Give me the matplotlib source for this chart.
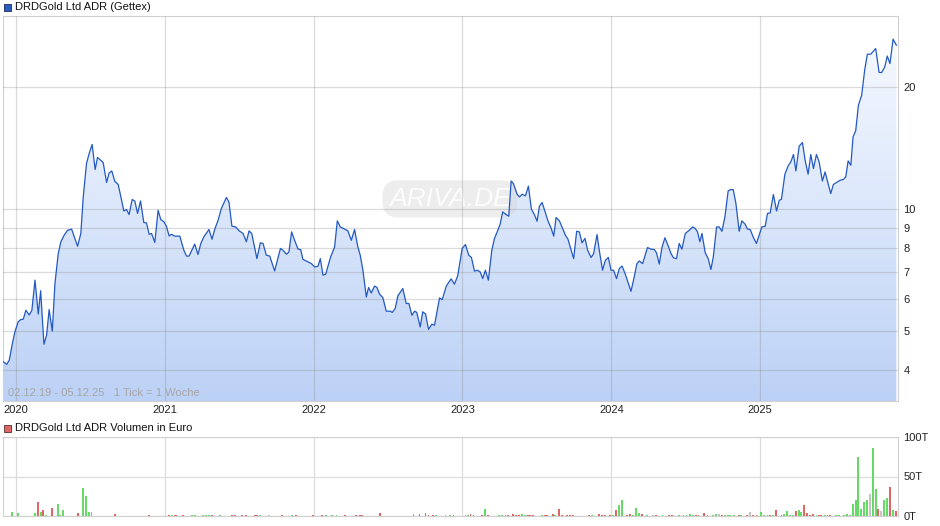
import numpy as np
import matplotlib
matplotlib.use('Agg')
import matplotlib.pyplot as plt
from matplotlib.colors import LinearSegmentedColormap
from matplotlib.patches import Polygon, Rectangle
from matplotlib.ticker import NullLocator

plt.rcParams['font.family'] = ['Liberation Sans', 'DejaVu Sans']

# Kursverlauf (Jahr als Dezimalzahl, Kurs in USD)
price_t = [2019.915, 2019.938, 2019.955, 2019.978, 2019.993, 2020.015, 2020.032, 2020.049, 2020.067, 2020.089,
           2020.107, 2020.128, 2020.150, 2020.166, 2020.188, 2020.206, 2020.223, 2020.244, 2020.262, 2020.284,
           2020.302, 2020.324, 2020.347, 2020.374, 2020.414, 2020.436, 2020.452, 2020.474, 2020.492, 2020.512,
           2020.532, 2020.548, 2020.586, 2020.609, 2020.626, 2020.644, 2020.664, 2020.687, 2020.725, 2020.743,
           2020.760, 2020.781, 2020.799, 2020.817, 2020.837, 2020.859, 2020.877, 2020.895, 2020.911, 2020.933,
           2020.955, 2020.973, 2020.995, 2021.011, 2021.029, 2021.045, 2021.067, 2021.101, 2021.128, 2021.146,
           2021.163, 2021.201, 2021.223, 2021.242, 2021.262, 2021.297, 2021.317, 2021.336, 2021.358, 2021.380,
           2021.414, 2021.431, 2021.451, 2021.476, 2021.500, 2021.526, 2021.548, 2021.566, 2021.584, 2021.619,
           2021.642, 2021.660, 2021.682, 2021.705, 2021.738, 2021.777, 2021.794, 2021.817, 2021.834, 2021.852,
           2021.872, 2021.895, 2021.913, 2021.928, 2021.962, 2021.985, 2022.007, 2022.029, 2022.045, 2022.063,
           2022.081, 2022.114, 2022.141, 2022.159, 2022.179, 2022.201, 2022.230, 2022.253, 2022.275, 2022.297,
           2022.313, 2022.331, 2022.354, 2022.369, 2022.387, 2022.409, 2022.425, 2022.443, 2022.465, 2022.488,
           2022.515, 2022.528, 2022.548, 2022.566, 2022.599, 2022.622, 2022.640, 2022.660, 2022.678, 2022.693,
           2022.716, 2022.733, 2022.752, 2022.772, 2022.794, 2022.812, 2022.846, 2022.864, 2022.891, 2022.924,
           2022.946, 2022.968, 2022.998, 2023.020, 2023.042, 2023.060, 2023.081, 2023.099, 2023.119, 2023.136,
           2023.154, 2023.174, 2023.197, 2023.215, 2023.233, 2023.253, 2023.270, 2023.293, 2023.311, 2023.327,
           2023.342, 2023.367, 2023.383, 2023.401, 2023.423, 2023.443, 2023.463, 2023.483, 2023.501, 2023.517,
           2023.535, 2023.557, 2023.575, 2023.595, 2023.613, 2023.629, 2023.651, 2023.673, 2023.691, 2023.709,
           2023.730, 2023.747, 2023.767, 2023.785, 2023.803, 2023.823, 2023.841, 2023.864, 2023.881, 2023.904,
           2023.919, 2023.941, 2023.960, 2023.980, 2023.998, 2024.015, 2024.035, 2024.054, 2024.072, 2024.094,
           2024.132, 2024.154, 2024.172, 2024.188, 2024.210, 2024.243, 2024.266, 2024.289, 2024.304, 2024.322,
           2024.340, 2024.360, 2024.383, 2024.401, 2024.418, 2024.438, 2024.456, 2024.474, 2024.497, 2024.523,
           2024.546, 2024.564, 2024.579, 2024.595, 2024.609, 2024.631, 2024.651, 2024.669, 2024.685, 2024.707,
           2024.725, 2024.743, 2024.763, 2024.785, 2024.803, 2024.819, 2024.837, 2024.859, 2024.877, 2024.899,
           2024.915, 2024.933, 2024.953, 2024.975, 2024.993, 2025.011, 2025.034, 2025.049, 2025.067, 2025.089,
           2025.110, 2025.128, 2025.143, 2025.166, 2025.188, 2025.206, 2025.224, 2025.240, 2025.262, 2025.284,
           2025.302, 2025.322, 2025.340, 2025.358, 2025.378, 2025.396, 2025.418, 2025.436, 2025.456, 2025.474,
           2025.492, 2025.519, 2025.537, 2025.559, 2025.575, 2025.591, 2025.609, 2025.624, 2025.642, 2025.660,
           2025.682, 2025.702, 2025.720, 2025.743, 2025.776, 2025.799, 2025.817, 2025.837, 2025.854, 2025.872,
           2025.893, 2025.915]
price_v = [4.20, 4.14, 4.24, 4.70, 4.98, 5.27, 5.34, 5.35, 5.63, 5.48,
           5.63, 6.68, 5.51, 6.29, 4.64, 4.89, 5.65, 5.00, 6.55, 7.77,
           8.31, 8.63, 8.87, 8.93, 8.10, 8.71, 10.72, 12.97, 13.73, 14.45,
           12.53, 13.42, 13.04, 11.64, 12.29, 12.43, 11.72, 11.51, 9.90, 9.98,
           9.70, 10.57, 10.47, 9.76, 10.48, 9.27, 9.25, 8.67, 8.71, 8.28,
           9.94, 9.43, 9.30, 9.08, 8.59, 8.67, 8.58, 8.58, 7.92, 7.66,
           7.66, 8.20, 7.73, 8.23, 8.54, 8.91, 8.43, 8.93, 9.39, 10.04,
           10.69, 10.42, 9.08, 9.04, 8.84, 8.71, 8.31, 8.84, 8.71, 7.55,
           8.26, 8.23, 7.70, 7.66, 7.04, 8.00, 7.92, 7.74, 7.84, 8.79,
           8.38, 7.97, 7.95, 7.52, 7.41, 7.34, 7.20, 7.23, 7.55, 6.87,
           6.91, 7.62, 8.07, 9.36, 9.04, 8.96, 8.84, 8.38, 8.91, 8.07,
           7.70, 7.07, 6.07, 6.41, 6.21, 6.46, 6.41, 6.17, 6.05, 5.60,
           5.60, 5.56, 5.69, 6.11, 6.37, 5.85, 5.85, 5.47, 5.60, 5.56,
           5.12, 5.58, 5.51, 5.05, 5.20, 5.17, 6.04, 5.98, 6.46, 6.73,
           6.53, 6.85, 8.00, 8.18, 7.70, 7.60, 7.03, 7.07, 7.00, 6.74,
           7.07, 6.68, 7.92, 8.47, 8.79, 9.18, 9.85, 9.70, 9.61, 11.74,
           11.57, 10.89, 10.72, 10.89, 10.79, 11.40, 10.00, 9.70, 9.34, 10.17,
           10.39, 9.79, 9.34, 8.99, 8.58, 9.54, 9.36, 8.96, 8.63, 8.43,
           7.92, 7.55, 8.82, 8.79, 8.26, 8.47, 7.92, 7.60, 7.77, 8.66,
           7.92, 7.07, 7.48, 7.60, 7.07, 7.07, 6.74, 7.14, 7.24, 6.91,
           6.27, 6.81, 7.34, 7.45, 7.34, 8.04, 7.97, 7.95, 7.80, 7.32,
           8.04, 8.50, 8.10, 7.77, 7.58, 7.55, 8.23, 7.97, 8.71, 8.87,
           9.04, 8.96, 8.79, 8.31, 8.71, 7.80, 7.55, 7.10, 7.62, 9.04,
           9.04, 8.82, 9.57, 11.10, 11.18, 11.18, 10.33, 8.82, 9.36, 9.18,
           8.93, 8.91, 8.54, 8.23, 8.63, 9.04, 9.08, 9.76, 9.79, 10.87,
           9.90, 10.52, 10.58, 12.20, 12.79, 13.09, 13.65, 12.43, 14.31, 14.61,
           13.21, 12.20, 13.65, 12.60, 13.65, 13.09, 11.74, 12.36, 11.57, 10.93,
           11.51, 11.68, 11.79, 11.84, 12.02, 13.16, 12.84, 15.09, 15.63, 18.06,
           19.12, 22.04, 24.14, 24.14, 24.94, 21.76, 21.76, 22.46, 23.90, 22.89,
           26.30, 25.41]

# Volumen in Tausend Euro, Farbe: g = steigend, r = fallend, n = unveraendert
vol_t = [2019.973, 2020.011, 2020.128, 2020.146, 2020.166, 2020.181, 2020.201, 2020.242, 2020.282, 2020.295,
         2020.315, 2020.416, 2020.448, 2020.470, 2020.488, 2020.508, 2020.664, 2020.893, 2021.027, 2021.047,
         2021.067, 2021.079, 2021.121, 2021.183, 2021.201, 2021.255, 2021.275, 2021.295, 2021.315, 2021.369,
         2021.450, 2021.472, 2021.521, 2021.544, 2021.604, 2021.617, 2021.638, 2021.700, 2021.790, 2021.852,
         2021.884, 2021.998, 2022.058, 2022.081, 2022.123, 2022.154, 2022.213, 2022.287, 2022.309, 2022.327,
         2022.443, 2022.671, 2022.711, 2022.752, 2022.772, 2022.801, 2022.823, 2022.886, 2022.917, 2022.940,
         2023.020, 2023.036, 2023.054, 2023.074, 2023.132, 2023.154, 2023.174, 2023.248, 2023.266, 2023.289,
         2023.304, 2023.338, 2023.360, 2023.378, 2023.401, 2023.421, 2023.438, 2023.454, 2023.472, 2023.535,
         2023.552, 2023.568, 2023.606, 2023.624, 2023.646, 2023.669, 2023.703, 2023.723, 2023.745, 2023.852,
         2023.870, 2023.915, 2023.935, 2023.960, 2023.991, 2024.009, 2024.032, 2024.052, 2024.072, 2024.105,
         2024.126, 2024.148, 2024.166, 2024.188, 2024.206, 2024.240, 2024.282, 2024.300, 2024.344, 2024.385,
         2024.405, 2024.456, 2024.485, 2024.505, 2024.528, 2024.550, 2024.568, 2024.586, 2024.624, 2024.646,
         2024.685, 2024.703, 2024.725, 2024.743, 2024.765, 2024.781, 2024.799, 2024.826, 2024.859, 2024.874,
         2024.911, 2024.933, 2024.953, 2024.975, 2025.007, 2025.027, 2025.049, 2025.067, 2025.087, 2025.107,
         2025.143, 2025.161, 2025.183, 2025.201, 2025.221, 2025.242, 2025.262, 2025.277, 2025.295, 2025.317,
         2025.336, 2025.356, 2025.378, 2025.396, 2025.411, 2025.434, 2025.452, 2025.470, 2025.508, 2025.530,
         2025.564, 2025.582, 2025.602, 2025.624, 2025.646, 2025.658, 2025.678, 2025.698, 2025.718, 2025.738,
         2025.758, 2025.779, 2025.792, 2025.812, 2025.832, 2025.852, 2025.872, 2025.893, 2025.911]
vol_v = [5.5, 4.2, 4.2, 18.1, 5.5, 8.0, 1.7, 10.5, 15.6, 1.7,
         8.0, 4.2, 35.9, 25.7, 5.5, 5.5, 3.0, 1.7, 0.8, 1.7,
         0.8, 0.8, 0.8, 1.7, 1.7, 0.8, 1.7, 1.7, 0.8, 1.7,
         1.7, 0.8, 0.8, 0.8, 1.7, 0.8, 0.8, 0.8, 0.8, 0.8,
         0.8, 0.8, 0.8, 0.8, 0.8, 0.8, 0.8, 0.8, 0.8, 0.8,
         4.2, 3.0, 3.0, 4.2, 1.7, 0.8, 0.8, 1.7, 0.8, 0.8,
         0.8, 0.8, 3.0, 0.8, 0.8, 9.3, 0.8, 1.7, 1.7, 0.8,
         0.8, 3.0, 1.7, 0.8, 3.0, 1.7, 1.7, 1.7, 0.8, 1.7,
         0.8, 1.7, 3.0, 0.8, 9.3, 0.8, 1.7, 0.8, 1.7, 1.7,
         0.8, 3.0, 0.8, 0.8, 1.7, 0.8, 8.0, 14.3, 20.7, 1.7,
         3.0, 1.7, 10.5, 4.2, 3.0, 0.8, 1.7, 0.8, 0.8, 0.8,
         0.8, 0.8, 0.8, 1.7, 3.0, 0.8, 1.7, 1.7, 4.2, 0.8,
         0.8, 3.0, 3.0, 1.7, 0.8, 0.8, 1.7, 0.8, 1.7, 1.7,
         1.7, 5.5, 1.7, 0.8, 5.5, 0.8, 0.8, 1.7, 1.7, 8.0,
         0.8, 3.0, 6.8, 0.8, 0.8, 6.8, 8.0, 5.5, 14.3, 4.2,
         0.8, 3.0, 0.8, 1.7, 1.7, 0.8, 0.8, 1.7, 0.8, 0.8,
         0.8, 3.0, 0.8, 15.6, 20.7, 74.7, 9.3, 18.1, 20.7, 28.3,
         86.5, 34.6, 9.3, 6.8, 20.7, 23.2, 37.1, 8.0, 6.8]
vol_c = list('gggrgrgrgg'
             'grggggrrrg'
             'rrrgggggrg'
             'rrrrrrgnrg'
             'rrrgggrrrr'
             'rgrrrrgggr'
             'ggrrrgrggr'
             'rrrrggrrrg'
             'rrrgrrrrrr'
             'grrrrgrggr'
             'rgggrgnrgr'
             'rgrgggrrrr'
             'ggnrggggrg'
             'rnrrgggrgr'
             'rggggrggrr'
             'rrgrrgrrgg'
             'gggggggggn'
             'ggrnggrgr')

years = [2020, 2021, 2022, 2023, 2024, 2025]
price_ticks = [4, 5, 6, 7, 8, 9, 10, 20]
vol_ticks = [0, 50, 100]
x_start, x_end = 2019.913, 2025.926
y_low, y_high = 3.36, 30

bar_colors = {'g': '#66d966', 'r': '#e06666', 'n': '#c4c4c4'}

fig = plt.figure(figsize=(9.4, 5.26), dpi=100)
ax = fig.add_axes([3 / 940, 125 / 526, 895 / 940, 385 / 526])
axv = fig.add_axes([3 / 940, 10 / 526, 895 / 940, 79 / 526])

# --- Kurs ---
ax.set_yscale('log')
grad = np.linspace(0, 1, 256).reshape(-1, 1)
cmap = LinearSegmentedColormap.from_list('fill', ['#bcd1f6', '#dbe7fb', '#f9fbff'])
im = ax.imshow(grad, extent=[0, 1, 0, 1], transform=ax.transAxes, origin='lower',
               cmap=cmap, aspect='auto', zorder=1, interpolation='bilinear')
xs = list(price_t) + [price_t[-1], price_t[0]]
ys = list(price_v) + [y_low, y_low]
poly = Polygon(np.column_stack([xs, ys]), closed=True, transform=ax.transData,
               facecolor='none', edgecolor='none')
ax.add_patch(poly)
im.set_clip_path(poly)
ax.plot(price_t, price_v, color='#2459c2', lw=0.9, zorder=4)

ax.set_xlim(x_start, x_end)
ax.set_ylim(y_low, y_high)
ax.set_yticks(price_ticks)
ax.set_yticklabels([str(v) for v in price_ticks])
ax.yaxis.set_minor_locator(NullLocator())
ax.yaxis.tick_right()
ax.set_xticks(years)
ax.set_xticklabels([str(y) for y in years])
ax.tick_params(length=0, labelsize=8, colors='#222222', pad=4)
ax.tick_params(axis='x', pad=3)
ax.set_axisbelow(False)
ax.grid(True, color='#8a8a8a', alpha=0.3, lw=0.9)
for s in ax.spines.values():
    s.set_color('#d0d0d0')

ax.text(0.0056, 0.008, '02.12.19 - 05.12.25   1 Tick = 1 Woche', transform=ax.transAxes,
        color='#a6a6a6', fontsize=8, va='bottom', ha='left', zorder=5)
ax.text(0.4994, 0.525, 'ARIVA.DE', transform=ax.transAxes, color='white', alpha=0.85,
        fontsize=19, style='italic', ha='center', va='center', zorder=2,
        bbox=dict(boxstyle='round,pad=0.25,rounding_size=0.6', fc='#d8d8d8', ec='none', alpha=0.45))

# --- Volumen ---
axv.bar(vol_t, vol_v, width=0.0125, color=[bar_colors[c] for c in vol_c], zorder=3)
axv.set_xlim(x_start, x_end)
axv.set_ylim(0, 100)
axv.set_yticks(vol_ticks)
axv.set_yticklabels([f'{v}T' for v in vol_ticks])
axv.yaxis.tick_right()
axv.set_xticks(years)
axv.set_xticklabels([])
axv.tick_params(length=0, labelsize=8, colors='#222222', pad=4)
axv.grid(True, color='#dcdcdc', lw=0.9)
axv.set_axisbelow(True)
for s in axv.spines.values():
    s.set_color('#d0d0d0')

# --- Legenden ---
fig.patches.append(Rectangle((4 / 940, 1 - 11 / 526), 7 / 940, 7 / 526, transform=fig.transFigure,
                             fc='#2a5cc4', ec='#1a2a50', lw=0.6))
fig.text(15 / 940, 1 - 7 / 526, 'DRDGold Ltd ADR (Gettex)', fontsize=8, va='center', ha='left', color='#111111')
fig.patches.append(Rectangle((4 / 940, 1 - 432 / 526), 7 / 940, 7 / 526, transform=fig.transFigure,
                             fc='#e06666', ec='#503030', lw=0.6))
fig.text(15 / 940, 1 - 428 / 526, 'DRDGold Ltd ADR Volumen in Euro', fontsize=8, va='center', ha='left',
         color='#111111')

fig.savefig('out.png', dpi=100)
